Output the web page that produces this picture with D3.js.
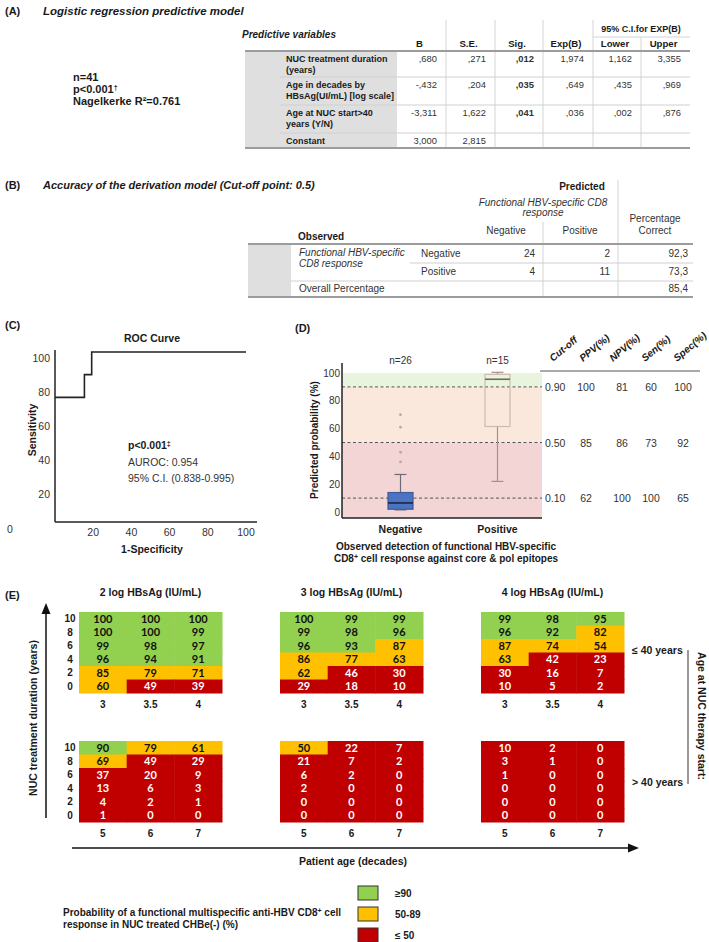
<!DOCTYPE html>
<html><head><meta charset="utf-8">
<script src="https://cdn.jsdelivr.net/npm/d3@7"></script>
<style>
body{margin:0;background:#fff}
svg{display:block}
text{font-family:"Liberation Sans",Arial,sans-serif}
</style>
</head><body>
<svg id="c" width="709" height="942"></svg>
<script>
// ---------------- DATA ----------------
// (A) logistic regression
const modelStats = ["n=41", "p<0.001", "Nagelkerke R²=0.761"];
const regVarLabels = [["NUC treatment duration", "(years)"], ["Age in decades by", "HBsAg(UI/mL) [log scale]"], ["Age at NUC start>40", "years (Y/N)"], ["Constant"]];
const regHeaders = ["B", "S.E.", "Sig.", "Exp(B)", "Lower", "Upper"];
const regB = [",680", "-,432", "-3,311", "3,000"];
const regSE = [",271", ",204", "1,622", "2,815"];
const regSig = [",012", ",035", ",041", ""];
const regExpB = ["1,974", ",649", ",036", ""];
const regLower = ["1,162", ",435", ",002", ""];
const regUpper = ["3,355", ",969", ",876", ""];
// (B) classification table
const obsClasses = ["Negative", "Positive"];
const predNegative = [24, 4];
const predPositive = [2, 11];
const pctCorrect = ["92,3", "73,3"];
const overallPct = "85,4";
// (C) ROC
const rocFpr = [0, 15.4, 15.4, 19.2, 19.2, 100];
const rocTpr = [73.3, 73.3, 86.7, 86.7, 100, 100];
const rocTicks = [20, 40, 60, 80, 100];
const rocYTicks = [20, 40, 60, 80, 100];
// (D) box plot
const boxGroups = ["Negative", "Positive"];
const boxN = ["n=26", "n=15"];
const boxMin = [1.5, 22];
const boxQ1 = [2, 61.5];
const boxMedian = [6.5, 95.5];
const boxQ3 = [14, 99];
const boxMax = [27, 100.5];
const negOutliers = [70, 61, 43, 36];
const dTicks = [0, 20, 40, 60, 80, 100];
const cutoffs = [0.90, 0.50, 0.10];
const ppv = [100, 85, 62];
const npv = [81, 86, 100];
const sen = [60, 73, 100];
const spec = [100, 92, 65];
const cutHeaders = ["Cut-off", "PPV(%)", "NPV(%)", "Sen(%)", "Spec(%)"];
// (E) heat maps
const hbsagTitles = ["2 log HBsAg (IU/mL)", "3 log HBsAg (IU/mL)", "4 log HBsAg (IU/mL)"];
const durations = [10, 8, 6, 4, 2, 0];
const agesYoung = ["3", "3.5", "4"];
const agesOld = ["5", "6", "7"];
const probYoung2 = [[100,100,100],[100,100,99],[99,98,97],[96,94,91],[85,79,71],[60,49,39]];
const probYoung3 = [[100,99,99],[99,98,96],[96,93,87],[86,77,63],[62,46,30],[29,18,10]];
const probYoung4 = [[99,98,95],[96,92,82],[87,74,54],[63,42,23],[30,16,7],[10,5,2]];
const probOld2 = [[90,79,61],[69,49,29],[37,20,9],[13,6,3],[4,2,1],[1,0,0]];
const probOld3 = [[50,22,7],[21,7,2],[6,2,0],[2,0,0],[0,0,0],[0,0,0]];
const probOld4 = [[10,2,0],[3,1,0],[1,0,0],[0,0,0],[0,0,0],[0,0,0]];
const legendLabels = ["≥90", "50-89", "≤ 50"];

// ---------------- DRAW ----------------
const svg = d3.select("#c");
const NARROW = "'Liberation Sans Narrow','Arial Narrow','Liberation Sans',Arial,sans-serif";
function T(g, x, y, s, o = {}) {
  const t = g.append("text").attr("x", x).attr("y", y).text(s)
    .style("font-size", (o.size || 10) + "px")
    .style("font-weight", o.bold ? "bold" : "normal")
    .style("font-style", o.italic ? "italic" : "normal")
    .attr("text-anchor", o.anchor || "start")
    .attr("fill", o.fill || "#1a1a1a");
  if (o.family) t.style("font-family", o.family);
  return t;
}
function L(g, x1, y1, x2, y2, c, w, dash) {
  const l = g.append("line").attr("x1", x1).attr("y1", y1).attr("x2", x2).attr("y2", y2)
    .attr("stroke", c).attr("stroke-width", w);
  if (dash) l.attr("stroke-dasharray", dash);
  return l;
}

// ===== Panel A =====
const gA = svg.append("g");
T(gA, 5, 15, "(A)", {bold: true, size: 11});
T(gA, 43, 15, "Logistic regression predictive model", {bold: true, italic: true, size: 11.5});
modelStats.forEach((s, i) => {
  const t = T(gA, 73, 81 + i * 12, s, {bold: true, size: 11});
  if (i === 1) t.append("tspan").attr("baseline-shift", "super").style("font-size", "7px").text("†");
});
// table
const tA = {left: 245, right: 690, stubR: 280, labR: 397, top: 20, head: 51, rows: [51, 77, 105, 133, 148]};
const colEdges = [397, 446, 495, 543, 593, 641, 690];
gA.append("rect").attr("x", tA.left).attr("y", tA.head).attr("width", tA.labR - tA.left).attr("height", tA.rows[4] - tA.head).attr("fill", "#dfdfdf");
T(gA, 242, 38, "Predictive variables", {bold: true, italic: true, size: 10});
T(gA, 641, 32, "95% C.I.for EXP(B)", {bold: true, size: 9, anchor: "middle"});
L(gA, 593, 37, 690, 37, "#d4d4d4", 1);
regHeaders.forEach((h, i) => {
  T(gA, (colEdges[i] + colEdges[i + 1]) / 2 - 2, 46.5, h, {bold: true, size: 9.6, anchor: "middle"});
});
[446, 495, 543, 593].forEach(x => L(gA, x, tA.top, x, tA.rows[4], "#d4d4d4", 1));
L(gA, 641, 37, 641, tA.rows[4], "#d4d4d4", 1);
[77, 105, 133].forEach(y => L(gA, tA.stubR, y, tA.right, y, "#d0d0d0", 1));
L(gA, tA.left, tA.head, tA.right, tA.head, "#9c9c9c", 2);
L(gA, tA.left, tA.rows[4], tA.right, tA.rows[4], "#9c9c9c", 2);
const regCols = [regB, regSE, regSig, regExpB, regLower, regUpper];
regVarLabels.forEach((lab, r) => {
  const y0 = r < 3 ? tA.rows[r] + 11 : 144;
  lab.forEach((s, k) => T(gA, 286, y0 + k * 11, s, {bold: true, size: 9}));
  regCols.forEach((col, c) => {
    T(gA, colEdges[c + 1] - 9, y0, col[r], {size: 9.4, bold: c === 2, anchor: "end", fill: "#333"});
  });
});

// ===== Panel B =====
const gB = svg.append("g");
T(gB, 5, 189, "(B)", {bold: true, size: 11});
T(gB, 43, 189, "Accuracy of the derivation model (Cut-off point: 0.5)", {bold: true, italic: true, size: 11});
const fB = {family: NARROW, size: 10};
T(gB, 582, 190, "Predicted", {...fB, bold: true, anchor: "middle"});
T(gB, 543, 206, "Functional HBV-specific CD8", {...fB, italic: true, anchor: "middle", fill: "#333"});
T(gB, 543, 216, "response", {...fB, italic: true, anchor: "middle", fill: "#333"});
T(gB, 655, 222, "Percentage", {...fB, anchor: "middle", fill: "#333"});
T(gB, 655, 234, "Correct", {...fB, anchor: "middle", fill: "#333"});
T(gB, 506, 234, "Negative", {...fB, anchor: "middle", fill: "#333"});
T(gB, 580, 234, "Positive", {...fB, anchor: "middle", fill: "#333"});
T(gB, 298, 240, "Observed", {...fB, bold: true});
gB.append("rect").attr("x", 248).attr("y", 244).attr("width", 43).attr("height", 53).attr("fill", "#dfdfdf");
L(gB, 618, 180, 618, 297, "#d4d4d4", 1);
L(gB, 543, 222, 543, 297, "#d4d4d4", 1);
L(gB, 410, 263, 693, 263, "#d0d0d0", 1);
L(gB, 291, 281, 693, 281, "#d0d0d0", 1);
L(gB, 248, 244, 693, 244, "#9c9c9c", 2);
L(gB, 248, 297, 693, 297, "#9c9c9c", 2);
T(gB, 299, 256, "Functional HBV-specific", {...fB, italic: true, fill: "#333"});
T(gB, 299, 267, "CD8 response", {...fB, italic: true, fill: "#333"});
obsClasses.forEach((c, i) => {
  const y = 257 + i * 18;
  T(gB, 421, y, c, {...fB, fill: "#333"});
  T(gB, 535, y, predNegative[i], {...fB, anchor: "end", fill: "#333"});
  T(gB, 610, y, predPositive[i], {...fB, anchor: "end", fill: "#333"});
  T(gB, 688, y, pctCorrect[i], {...fB, anchor: "end", fill: "#333"});
});
T(gB, 299, 292, "Overall Percentage", {...fB, fill: "#333"});
T(gB, 688, 292, overallPct, {...fB, anchor: "end", fill: "#333"});

// ===== Panel C: ROC =====
const gC = svg.append("g");
T(gC, 5, 329, "(C)", {bold: true, size: 11});
T(gC, 152, 342, "ROC Curve", {bold: true, size: 10.5, anchor: "middle"});
const xC = d3.scaleLinear().domain([0, 100]).range([55, 246]);
const yC = d3.scaleLinear().domain([0, 100]).range([522, 352]);
L(gC, 55, 350, 55, 522, "#222", 1.5);
L(gC, 55, 522, 257, 522, "#222", 1.5);
rocYTicks.forEach(v => T(gC, 50, yC(v) + 10, v, {size: 10.5, anchor: "end", fill: "#333"}));
T(gC, 10, 533, "0", {size: 10.5, anchor: "middle", fill: "#333"});
rocTicks.forEach(v => T(gC, xC(v), 536, v, {size: 10.5, anchor: "middle", fill: "#333"}));
const rocLine = d3.line().x((d, i) => xC(rocFpr[i])).y((d, i) => yC(rocTpr[i]));
gC.append("path").attr("d", rocLine(rocFpr)).attr("fill", "none").attr("stroke", "#222").attr("stroke-width", 1.6);
T(gC, 0, 0, "Sensitivity", {bold: true, size: 10.5, anchor: "middle"}).attr("transform", "translate(36,430) rotate(-90)");
const pt = T(gC, 128, 449, "p<0.001", {bold: true, size: 10.5});
pt.append("tspan").attr("baseline-shift", "super").style("font-size", "7px").text("‡");
T(gC, 128, 466, "AUROC: 0.954", {size: 10.5, fill: "#333"});
T(gC, 128, 482, "95% C.I. (0.838-0.995)", {size: 10.5, fill: "#333"});
T(gC, 152, 553, "1-Specificity", {bold: true, size: 10.5, anchor: "middle"});

// ===== Panel D: box plot =====
const gD = svg.append("g");
T(gD, 295, 332, "(D)", {bold: true, size: 11});
const yD = d3.scaleLinear().domain([0, 100]).range([512, 373]);
const xD = d3.scalePoint().domain(boxGroups).range([400.5, 497.5]);
const dL = 342, dR = 542, dB = 518;
gD.append("rect").attr("x", dL).attr("y", yD(100)).attr("width", dR - dL).attr("height", yD(90) - yD(100)).attr("fill", "#e9f4de");
gD.append("rect").attr("x", dL).attr("y", yD(90)).attr("width", dR - dL).attr("height", yD(50) - yD(90)).attr("fill", "#fbe8dc");
gD.append("rect").attr("x", dL).attr("y", yD(50)).attr("width", dR - dL).attr("height", dB - yD(50)).attr("fill", "#f4d5d5");
cutoffs.forEach(c => L(gD, dL, yD(c * 100), dR, yD(c * 100), "#555", 1, "3,2.5"));
// boxes
const boxW = 25;
boxGroups.forEach((g, i) => {
  const cx = xD(g);
  const neg = i === 0;
  const wc = neg ? "#6b6b7a" : "#a88f86";
  L(gD, cx, yD(boxQ3[i]), cx, yD(boxMax[i]), wc, 1.2);
  L(gD, cx, yD(boxQ1[i]), cx, yD(boxMin[i]), wc, 1.2);
  L(gD, cx - 6, yD(boxMax[i]), cx + 6, yD(boxMax[i]), wc, 1.2);
  L(gD, cx - 6, yD(boxMin[i]), cx + 6, yD(boxMin[i]), wc, 1.2);
  gD.append("rect").attr("x", cx - boxW / 2).attr("y", yD(boxQ3[i])).attr("width", boxW)
    .attr("height", yD(boxQ1[i]) - yD(boxQ3[i]))
    .attr("fill", neg ? "#4d74c4" : "none").attr("stroke", neg ? "#3a5a9a" : "#cdbcae").attr("stroke-width", 1.2);
  L(gD, cx - boxW / 2, yD(boxMedian[i]), cx + boxW / 2, yD(boxMedian[i]), neg ? "#1b2740" : "#6e6e55", 1.6);
  T(gD, cx, 364, boxN[i], {size: 10, anchor: "middle", fill: "#333"});
  T(gD, cx, 533, g, {bold: true, size: 10.5, anchor: "middle"});
});
negOutliers.forEach(v => gD.append("circle").attr("cx", xD("Negative")).attr("cy", yD(v)).attr("r", 1.4).attr("fill", "#c9a2a2"));
L(gD, dL, 363, dL, dB, "#222", 1.5);
L(gD, dL, dB, dR, dB, "#222", 1.5);
dTicks.forEach(v => T(gD, dL - 2, yD(v) + 3.5, v, {size: 10, anchor: "end", fill: "#333"}));
T(gD, 0, 0, "Predicted probability (%)", {bold: true, size: 10, anchor: "middle"}).attr("transform", "translate(318,440) rotate(-90)");
T(gD, 446, 550, "Observed detection of functional HBV-specific", {bold: true, size: 10, anchor: "middle"});
const od = T(gD, 446, 562, "CD8", {bold: true, size: 10, anchor: "middle"});
od.append("tspan").attr("baseline-shift", "super").style("font-size", "7px").text("+");
od.append("tspan").text(" cell response against core & pol epitopes");
// cut-off table
const cutX = [545, 586, 622, 651, 683];
const hdrX = [553, 583, 613, 645, 677];
cutHeaders.forEach((h, i) => {
  T(gD, 0, 0, h, {bold: true, italic: true, size: 10}).attr("transform", `translate(${hdrX[i]},362) rotate(-40)`);
});
L(gD, 540, 371, 700, 371, "#555", 1);
cutoffs.forEach((c, r) => {
  const y = yD(c * 100) + 4;
  T(gD, cutX[0], y, c.toFixed(2), {size: 10.5, fill: "#333"});
  [ppv, npv, sen, spec].forEach((arr, k) => T(gD, cutX[k + 1], y, arr[r], {size: 10.5, anchor: "middle", fill: "#333"}));
});

// ===== Panel E: heat maps =====
const gE = svg.append("g");
T(gE, 5, 599, "(E)", {bold: true, size: 11});
const color = d3.scaleThreshold().domain([50, 90]).range(["#c00000", "#ffc000", "#92d050"]);
const panelX = [79, 280, 481];
const hmW = 143, hmH = 81;
const rowsY = [612, 741];
const datasets = [[probYoung2, probYoung3, probYoung4], [probOld2, probOld3, probOld4]];
const ageSets = [agesYoung, agesOld];
hbsagTitles.forEach((t, p) => T(gE, panelX[p] + hmW / 2, 596, t, {bold: true, size: 10.5, anchor: "middle"}));
rowsY.forEach((y0, ri) => {
  const ys = d3.scaleBand().domain(durations).range([y0, y0 + hmH]);
  datasets[ri].forEach((data, p) => {
    const xs = d3.scaleBand().domain(ageSets[ri]).range([panelX[p], panelX[p] + hmW]);
    const g = gE.append("g");
    durations.forEach((d, r) => {
      ageSets[ri].forEach((a, c) => {
        const v = data[r][c];
        g.append("rect").attr("x", xs(a)).attr("y", ys(d)).attr("width", xs.bandwidth() + 0.5).attr("height", ys.bandwidth() + 0.5)
          .attr("fill", color(v));
        T(g, xs(a) + xs.bandwidth() / 2, ys(d) + ys.bandwidth() / 2 + 4, v,
          {bold: true, size: 11, anchor: "middle", family: "Lato, 'Open Sans', sans-serif", fill: v < 50 ? "#ffffff" : "#111"});
      });
    });
    ageSets[ri].forEach(a => T(gE, xs(a) + xs.bandwidth() / 2, y0 + hmH + 15, a, {bold: true, size: 10, anchor: "middle"}));
    if (p === 0) durations.forEach(d => T(gE, 70, ys(d) + ys.bandwidth() / 2 + 3.5, d, {bold: true, size: 10, anchor: "middle"}));
  });
});
T(gE, 632, 654, "≤ 40 years", {bold: true, size: 10.5});
T(gE, 632, 786, "> 40 years", {bold: true, size: 10.5});
L(gE, 688, 650, 688, 784, "#555", 1.2);
T(gE, 0, 0, "Age at NUC therapy start:", {bold: true, size: 10.5, anchor: "middle"}).attr("transform", "translate(698,716) rotate(90)");
// arrows
L(gE, 46, 818, 46, 612, "#111", 1.5);
gE.append("path").attr("d", "M46,603 L41.5,614 L50.5,614 Z").attr("fill", "#111");
L(gE, 72, 848, 630, 848, "#111", 1.5);
gE.append("path").attr("d", "M639,848 L628,843.5 L628,852.5 Z").attr("fill", "#111");
T(gE, 0, 0, "NUC treatment duration (years)", {bold: true, size: 10.5, anchor: "middle"}).attr("transform", "translate(37,718) rotate(-90)");
T(gE, 353, 865, "Patient age (decades)", {bold: true, size: 10.5, anchor: "middle"});
// legend
const legColors = ["#92d050", "#ffc000", "#c00000"];
legendLabels.forEach((l, i) => {
  gE.append("rect").attr("x", 358).attr("y", 886 + i * 21).attr("width", 20).attr("height", 14)
    .attr("fill", legColors[i]).attr("stroke", "#333").attr("stroke-width", 1);
  T(gE, 395, 897 + i * 21, l, {bold: true, size: 10});
});
const lg = T(gE, 63, 916, "Probability of a functional multispecific anti-HBV CD8", {bold: true, size: 10});
lg.append("tspan").attr("baseline-shift", "super").style("font-size", "7px").text("+");
lg.append("tspan").text(" cell");
T(gE, 63, 928, "response in NUC treated CHBe(-) (%)", {bold: true, size: 10});
</script>
</body></html>
